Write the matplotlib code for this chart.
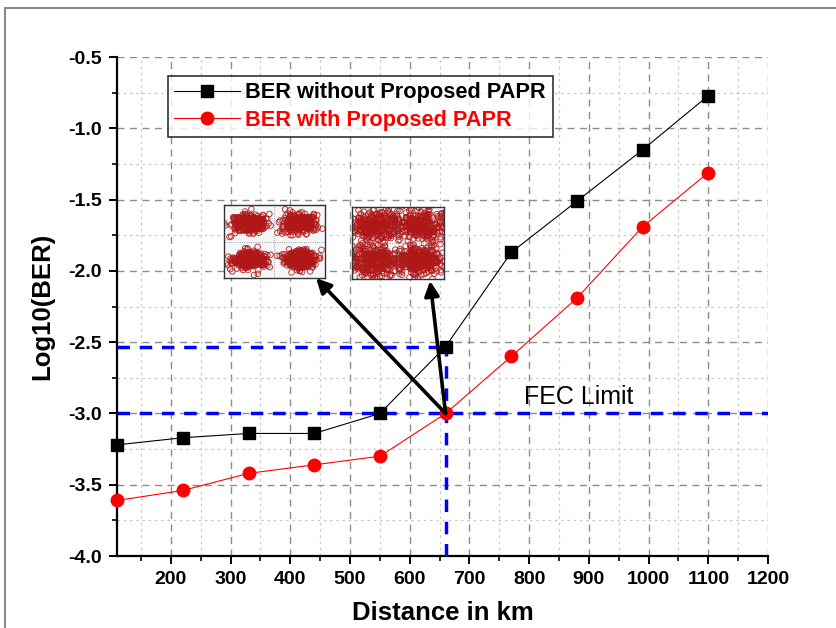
import numpy as np
import matplotlib
matplotlib.use("Agg")
import matplotlib.pyplot as plt
from matplotlib.patches import Rectangle
from matplotlib.ticker import MultipleLocator, FormatStrFormatter

plt.rcParams['font.family'] = ['Liberation Sans', 'DejaVu Sans']

distance = [110, 220, 330, 440, 550, 660, 770, 880, 990, 1100]
ber_without = [-3.22, -3.17, -3.14, -3.14, -3.00, -2.53, -1.87, -1.51, -1.15, -0.77]
ber_with = [-3.61, -3.54, -3.42, -3.36, -3.30, -3.00, -2.60, -2.19, -1.69, -1.31]
label_without = "BER without Proposed PAPR"
label_with = "BER with Proposed PAPR"
fec_limit = -3.0
fec_distance = 660
ber_at_fec = -2.53

fig = plt.figure(figsize=(8.37, 6.28), dpi=100)
# outer frame
fig.patches.append(Rectangle((0.006, -0.1), 1.2, 1.088, transform=fig.transFigure,
                             fill=False, edgecolor='#707070', linewidth=1.2))

ax = fig.add_axes([0.140, 0.1146, 0.7776, 0.7944])
ax.set_xlim(110, 1200)
ax.set_ylim(-4.0, -0.5)

ax.xaxis.set_major_locator(MultipleLocator(100))
ax.xaxis.set_minor_locator(MultipleLocator(50))
ax.yaxis.set_major_locator(MultipleLocator(0.5))
ax.yaxis.set_minor_locator(MultipleLocator(0.25))
ax.yaxis.set_major_formatter(FormatStrFormatter('%.1f'))

ax.grid(which='major', linestyle=(0, (5, 4)), color='#8c8c8c', linewidth=1.0)
ax.grid(which='minor', linestyle=(0, (2, 3)), color='#c8c8c8', linewidth=0.9)
ax.set_axisbelow(True)

for s in ['top', 'right']:
    ax.spines[s].set_visible(False)
for s in ['left', 'bottom']:
    ax.spines[s].set_linewidth(1.6)

ax.tick_params(which='major', direction='out', length=6, width=1.4, labelsize=14, pad=5)
ax.tick_params(which='minor', direction='out', length=3.5, width=1.2)
for lab in ax.get_xticklabels() + ax.get_yticklabels():
    lab.set_fontweight('bold')

# FEC guide lines
blue_ls = (0, (3.6, 2.8))
ax.plot([110, fec_distance], [ber_at_fec, ber_at_fec], color='#0000ff', lw=2.5, linestyle=blue_ls, zorder=3)
ax.axhline(fec_limit, color='#0000ff', lw=2.5, linestyle=blue_ls, zorder=3)
ax.plot([fec_distance, fec_distance], [-4.0, ber_at_fec], color='#0000ff', lw=2.5, linestyle=blue_ls, zorder=3)

l1, = ax.plot(distance, ber_without, color='black', lw=0.8, marker='s', markersize=9,
              label=label_without, zorder=4, clip_on=False)
l2, = ax.plot(distance, ber_with, color='red', lw=0.8, marker='o', markersize=9,
              label=label_with, zorder=4, clip_on=False)

ax.text(792, -2.885, "FEC Limit", fontsize=18, color='black', va='center', ha='left')

# arrows to insets
for head in [(443, -2.05), (634, -2.07)]:
    ax.annotate("", xy=head, xytext=(fec_distance, fec_limit),
                arrowprops=dict(arrowstyle='-|>', color='black', lw=2.6,
                                mutation_scale=22, shrinkA=0, shrinkB=0), zorder=6)

leg = ax.legend(loc='upper left', bbox_to_anchor=(0.078, 0.963), frameon=True, fancybox=False,
                edgecolor='black', handlelength=3.0, handletextpad=0.25, borderpad=0.3,
                borderaxespad=0, labelspacing=0.3, prop={'weight': 'bold', 'size': 15.7})
leg.get_frame().set_linewidth(1.2)
leg.get_texts()[1].set_color('red')

ax.set_ylabel("Log10(BER)", fontsize=18.5, fontweight='bold', labelpad=10)
ax.set_xlabel("Distance in km", fontsize=18.5, fontweight='bold', labelpad=9)

# constellation insets (illustrative texture)
rng = np.random.default_rng(3)
def inset(rect, spread, n):
    ia = fig.add_axes(rect)
    centers = [(-1, -1), (-1, 1), (1, -1), (1, 1)]
    for cx, cy in centers:
        xs = cx + rng.normal(0, spread, n)
        ys = cy + rng.normal(0, spread * 0.75, n)
        ia.scatter(xs, ys, s=16, facecolors='none', edgecolors='#b01818', linewidths=0.7, alpha=0.85)
    ia.set_xlim(-2, 2)
    ia.set_ylim(-2, 2)
    ia.axhline(0, color='#888888', lw=0.6, ls=':')
    ia.axvline(0, color='#888888', lw=0.6, ls=':')
    ia.set_xticks([]); ia.set_yticks([])
    ia.set_facecolor('#f4f6f8')
    for s in ia.spines.values():
        s.set_linewidth(1.0)
        s.set_color('#333333')
    return ia

inset([0.2676, 0.557, 0.1207, 0.1162], 0.33, 300)
inset([0.4205, 0.5557, 0.1100, 0.1146], 0.55, 300)

fig.savefig("out.png", dpi=100)
